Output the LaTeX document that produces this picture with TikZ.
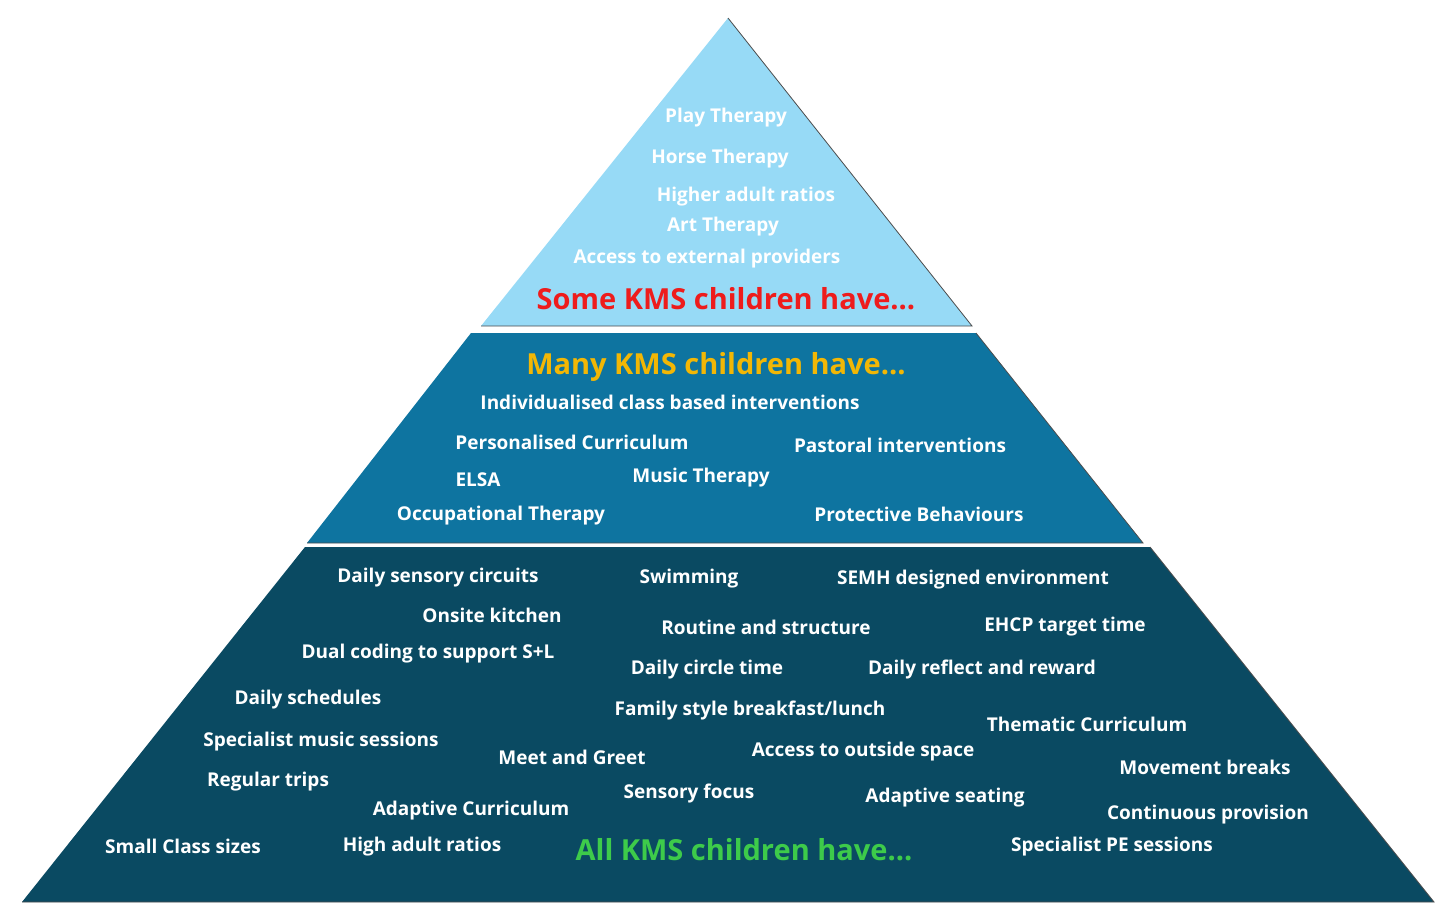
\documentclass[tikz,border=0pt]{standalone}
\usepackage{fontspec}
\setmainfont{Open Sans}
\definecolor{tierTop}{HTML}{97DAF6}
\definecolor{tierMid}{HTML}{0E74A0}
\definecolor{tierLow}{HTML}{0A4A62}
\definecolor{headRed}{HTML}{EE1C1C}
\definecolor{headGold}{HTML}{F2B705}
\definecolor{headGreen}{HTML}{3DCB4A}
\tikzset{
  tier/.style    = {draw=black!70, line width=0.8pt},
  lbl/.style     = {text=white, font=\bfseries\fontsize{19}{22}\selectfont, inner sep=0pt},
  heading/.style = {font=\bfseries\fontsize{29}{34}\selectfont, inner sep=0pt}
}
\begin{document}
\begin{tikzpicture}[x=1pt,y=-1pt]
  \useasboundingbox (0,0) rectangle (1450,910);
  % tiers
  \fill[tierTop] (728,18) -- (972,326) -- (481,326) -- cycle;
  \draw[tier] (728,18) -- (972,326) -- (481,326);
  \fill[tierMid] (471,333) -- (976,333) -- (1143,543) -- (307,543) -- cycle;
  \draw[tier] (976,333) -- (1143,543) -- (307,543);
  \fill[tierLow] (305,547) -- (1150,547) -- (1434,902) -- (22,902) -- cycle;
  \draw[tier] (1150,547) -- (1434,902) -- (22,902);
  % top tier
  \node[lbl] (play)   at (726,118) {Play Therapy};
  \node[lbl] (horse)  at (720,159) {Horse Therapy};
  \node[lbl] (higher) at (746,197) {Higher adult ratios};
  \node[lbl] (art)    at (723,227) {Art Therapy};
  \node[lbl] (ext)    at (707,259) {Access to external providers};
  \node[heading, text=headRed] (some) at (726,299) {Some KMS children have...};
  % middle tier
  \node[heading, text=headGold] (many) at (716,367) {Many KMS children have...};
  \node[lbl] (indiv)  at (670,402) {Individualised class based interventions};
  \node[lbl] (pcurr)  at (572,442) {Personalised Curriculum};
  \node[lbl] (past)   at (900,445) {Pastoral interventions};
  \node[lbl] (elsa)   at (478,480) {ELSA};
  \node[lbl] (music)  at (701,478) {Music Therapy};
  \node[lbl] (occ)    at (501,516) {Occupational Therapy};
  \node[lbl] (prot)   at (919,514) {Protective Behaviours};
  % bottom tier
  \node[lbl] (sens)   at (438,578) {Daily sensory circuits};
  \node[lbl] (swim)   at (689,579) {Swimming};
  \node[lbl] (semh)   at (973,580) {SEMH designed environment};
  \node[lbl] (kitch)  at (492,615) {Onsite kitchen};
  \node[lbl] (rout)   at (766,627) {Routine and structure};
  \node[lbl] (ehcp)   at (1065,627) {EHCP target time};
  \node[lbl] (dual)   at (428,654) {Dual coding to support S+L};
  \node[lbl] (circ)   at (707,670) {Daily circle time};
  \node[lbl] (refl)   at (982,670) {Daily reflect and reward};
  \node[lbl] (sched)  at (308,700) {Daily schedules};
  \node[lbl] (fam)    at (750,711) {Family style breakfast/lunch};
  \node[lbl] (them)   at (1087,724) {Thematic Curriculum};
  \node[lbl] (spmus)  at (321,742) {Specialist music sessions};
  \node[lbl] (meet)   at (572,757) {Meet and Greet};
  \node[lbl] (out)    at (863,752) {Access to outside space};
  \node[lbl] (move)   at (1205,767) {Movement breaks};
  \node[lbl] (trips)  at (268,782) {Regular trips};
  \node[lbl] (sfoc)   at (689,794) {Sensory focus};
  \node[lbl] (aseat)  at (945,798) {Adaptive seating};
  \node[lbl] (acurr)  at (471,811) {Adaptive Curriculum};
  \node[lbl] (cont)   at (1208,815) {Continuous provision};
  \node[lbl] (small)  at (183,846) {Small Class sizes};
  \node[lbl] (high)   at (422,847) {High adult ratios};
  \node[heading, text=headGreen] (all) at (744,850) {All KMS children have...};
  \node[lbl] (pe)     at (1112,847) {Specialist PE sessions};
\end{tikzpicture}
\end{document}
